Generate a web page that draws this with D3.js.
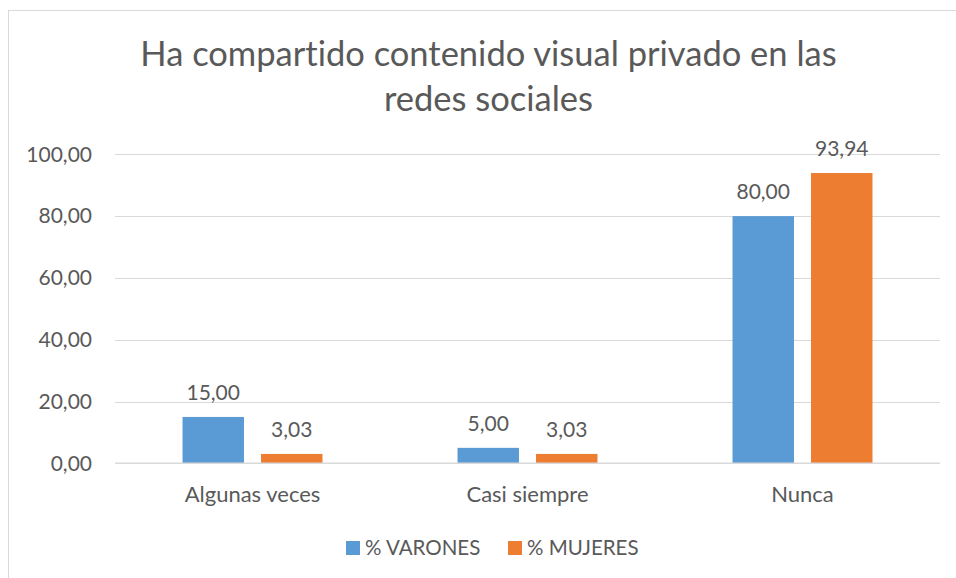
<!DOCTYPE html>
<html>
<head>
<meta charset="utf-8">
<script src="https://cdn.jsdelivr.net/npm/d3@7"></script>
<style>
  html, body { margin: 0; padding: 0; background: #ffffff; }
  svg { display: block; font-family: Lato, "Open Sans", sans-serif; font-variant-ligatures: none; font-feature-settings: "liga" 0, "dlig" 0; }
</style>
</head>
<body>
<svg id="chart" width="956" height="578"></svg>
<script>
// ---- data ----
const titleLines = ["Ha compartido contenido visual privado en las", "redes sociales"];
const categories = ["Algunas veces", "Casi siempre", "Nunca"];
const seriesNames = ["% VARONES", "% MUJERES"];
const varones = [15.00, 5.00, 80.00];
const mujeres = [3.03, 3.03, 93.94];
const yTicks = [0, 20, 40, 60, 80, 100];

const seriesColors = ["#5B9BD5", "#ED7D31"];
const textColor = "#595959";
const gridColor = "#D9D9D9";

const svg = d3.select("#chart");
const plot = { left: 115, right: 940, top: 154.3, bottom: 463.3 };

const locale = d3.formatLocale({ decimal: ",", thousands: ".", grouping: [3], currency: ["", "€"] });
const fmt = locale.format(".2f");

// chart border
svg.append("rect")
  .attr("x", 8.5).attr("y", 10.5)
  .attr("width", 1200).attr("height", 1200)
  .attr("fill", "#ffffff")
  .attr("stroke", gridColor).attr("stroke-width", 1);

// title
const title = svg.append("text")
  .attr("text-anchor", "middle")
  .attr("fill", textColor)
  .attr("font-size", 34.5);
titleLines.forEach((t, i) => {
  title.append("tspan").attr("x", 488.5).attr("y", 66 + i * 44.5).text(t);
});

// scales
const y = d3.scaleLinear().domain([0, 100]).range([plot.bottom, plot.top]);
const x0 = d3.scaleBand().domain(categories).range([plot.left, plot.right]).padding(0);
const x1 = d3.scaleBand().domain(seriesNames).range([0, x0.bandwidth()])
  .paddingInner(0.217).paddingOuter(0.86);

// gridlines via axis
const yAxis = d3.axisLeft(y).tickValues(yTicks).tickFormat(fmt)
  .tickSize(-(plot.right - plot.left)).tickPadding(23);
const gy = svg.append("g")
  .attr("transform", `translate(${plot.left},0)`)
  .call(yAxis);
gy.select(".domain").remove();
gy.selectAll(".tick line").attr("stroke", gridColor).attr("stroke-width", 1)
  .attr("shape-rendering", "crispEdges");
gy.selectAll(".tick text").attr("fill", textColor).attr("font-size", 21)
  .attr("font-family", "Lato, 'Open Sans', sans-serif");

// bars
const data = categories.map((c, i) => ({ cat: c, vals: [varones[i], mujeres[i]] }));
const groups = svg.append("g").selectAll("g")
  .data(data).join("g")
  .attr("transform", d => `translate(${x0(d.cat)},0)`);

groups.selectAll("rect")
  .data(d => d.vals.map((v, j) => ({ name: seriesNames[j], v, j })))
  .join("rect")
  .attr("x", d => x1(d.name))
  .attr("y", d => y(d.v))
  .attr("width", x1.bandwidth())
  .attr("height", d => y(0) - y(d.v))
  .attr("fill", d => seriesColors[d.j]);

groups.selectAll("text.lbl")
  .data(d => d.vals.map((v, j) => ({ name: seriesNames[j], v, j })))
  .join("text")
  .attr("class", "lbl")
  .attr("x", d => x1(d.name) + x1.bandwidth() / 2)
  .attr("y", d => y(d.v) - 17)
  .attr("text-anchor", "middle")
  .attr("fill", textColor)
  .attr("font-size", 21)
  .text(d => fmt(d.v));

// baseline
svg.append("line")
  .attr("x1", plot.left).attr("x2", plot.right)
  .attr("y1", y(0)).attr("y2", y(0))
  .attr("stroke", gridColor).attr("stroke-width", 1.5);

// category axis
const xAxis = d3.axisBottom(x0).tickSize(0).tickPadding(0);
const gx = svg.append("g")
  .attr("transform", `translate(0,${plot.bottom})`)
  .call(xAxis);
gx.select(".domain").remove();
gx.selectAll(".tick text")
  .attr("fill", textColor).attr("font-size", 22)
  .attr("font-family", "Lato, 'Open Sans', sans-serif")
  .attr("dy", null).attr("y", 39);

// legend
const legendX = [346, 508];
const lg = svg.append("g").selectAll("g")
  .data(seriesNames).join("g")
  .attr("transform", (d, i) => `translate(${legendX[i]},541)`);
lg.append("rect").attr("width", 14).attr("height", 14)
  .attr("fill", (d, i) => seriesColors[i]);
lg.append("text").attr("x", 19).attr("y", 14)
  .attr("fill", textColor).attr("font-size", 20.5)
  .text(d => d);
</script>
</body>
</html>
